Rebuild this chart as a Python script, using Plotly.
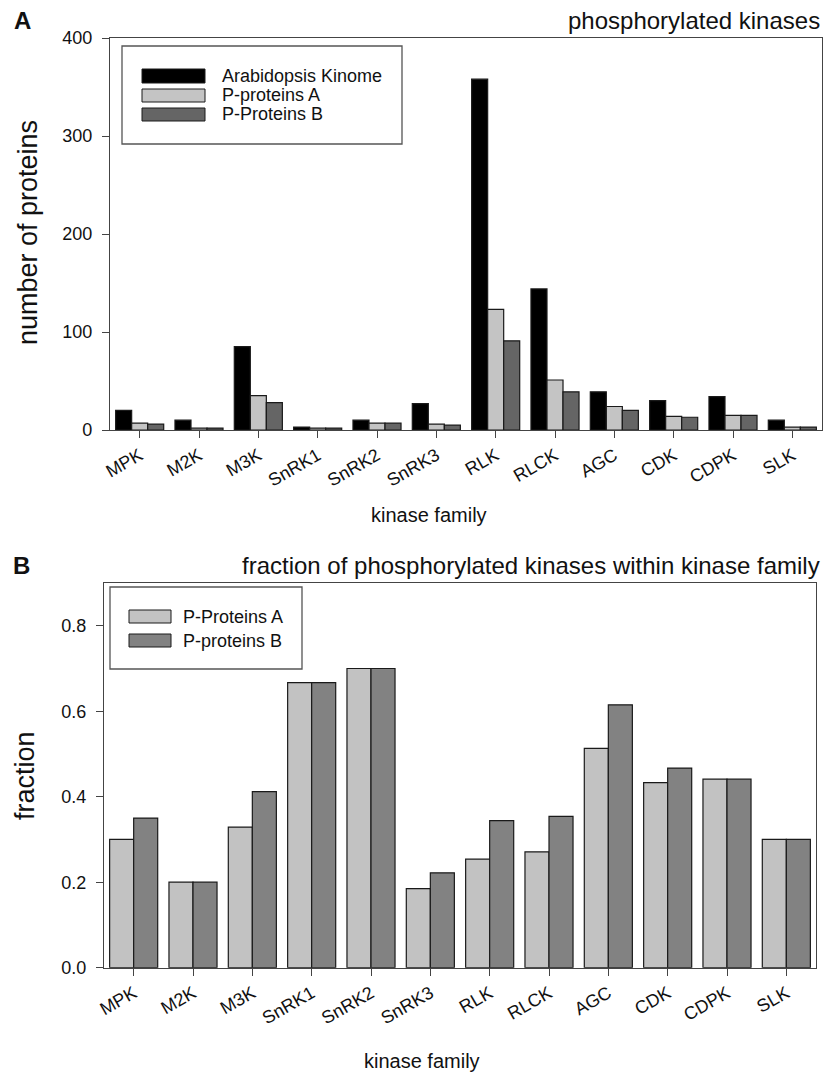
import plotly.graph_objects as go

W, H = 826, 1074

families = ["MPK", "M2K", "M3K", "SnRK1", "SnRK2", "SnRK3", "RLK", "RLCK", "AGC", "CDK", "CDPK", "SLK"]

# Panel A: counts
kinome = [20, 10, 85, 3, 10, 27, 358, 144, 39, 30, 34, 10]
pprot_a_counts = [7, 2, 35, 2, 7, 6, 123, 51, 24, 14, 15, 3]
pprot_b_counts = [6, 2, 28, 2, 7, 5, 91, 39, 20, 13, 15, 3]

# Panel B: fractions
frac_a = [0.300, 0.200, 0.329, 0.667, 0.700, 0.185, 0.254, 0.271, 0.513, 0.433, 0.441, 0.300]
frac_b = [0.350, 0.200, 0.412, 0.667, 0.700, 0.222, 0.344, 0.354, 0.615, 0.467, 0.441, 0.300]

legend_a_labels = ["Arabidopsis Kinome", "P-proteins A", "P-Proteins B"]
legend_b_labels = ["P-Proteins A", "P-proteins B"]

title_a = "phosphorylated kinases"
title_b = "fraction of phosphorylated kinases within kinase family"
ytitle_a = "number of proteins"
ytitle_b = "fraction"
xtitle = "kinase family"

col_black = "#000000"
col_light_a = "#c4c4c4"
col_dark_a = "#656565"
col_light_b = "#c2c2c2"
col_dark_b = "#828282"
edge = "#1a1a1a"

FONT = "Arial, Liberation Sans, Helvetica, sans-serif"


def px(x):
    return x / W


def py(y):
    return 1 - y / H


fig = go.Figure()

for vals, col, name in zip([kinome, pprot_a_counts, pprot_b_counts],
                           [col_black, col_light_a, col_dark_a], legend_a_labels):
    fig.add_trace(go.Bar(x=families, y=vals, name=name, marker=dict(color=col, line=dict(color=edge, width=1.2)),
                         xaxis="x", yaxis="y", offsetgroup=name, showlegend=False))

for vals, col, name in zip([frac_a, frac_b], [col_light_b, col_dark_b], legend_b_labels):
    fig.add_trace(go.Bar(x=families, y=vals, name=name, marker=dict(color=col, line=dict(color=edge, width=1.2)),
                         xaxis="x2", yaxis="y2", offsetgroup=name + "b", showlegend=False))

axis_common = dict(showline=True, linecolor="#444", linewidth=1.3, mirror=True, ticks="outside",
                   ticklen=7, tickcolor="#444", tickwidth=1.3, showgrid=False, zeroline=False,
                   automargin=False,
                   tickfont=dict(family=FONT, size=18, color="#111"))

fig.update_layout(
    template="none",
    width=W, height=H, margin=dict(l=0, r=0, t=0, b=0, pad=0, autoexpand=False),
    paper_bgcolor="white", plot_bgcolor="white",
    barmode="group", bargap=0.19, bargroupgap=0,
    font=dict(family=FONT, color="#111"),
    showlegend=False,
    xaxis=dict(domain=[px(110), px(822)], anchor="y", range=[-0.5, 11.5], tickangle=-30,
               **axis_common),
    yaxis=dict(domain=[py(430), py(38)], anchor="x", range=[0, 400], dtick=100,
               ticklabelstandoff=6, **axis_common),
    xaxis2=dict(domain=[px(104), px(816)], anchor="y2", range=[-0.5, 11.5], tickangle=-30,
                **axis_common),
    yaxis2=dict(domain=[py(967.7), py(583)], anchor="x2", range=[0, 0.9], dtick=0.2, tickformat=".1f",
                ticklabelstandoff=6, **axis_common),
)

ann = []
# panel letters
ann.append(dict(text="<b>A</b>", x=px(22), y=py(21), xref="paper", yref="paper", showarrow=False,
                font=dict(size=24, family=FONT, color="#111"), xanchor="center", yanchor="middle"))
ann.append(dict(text="<b>B</b>", x=px(21), y=py(565), xref="paper", yref="paper", showarrow=False,
                font=dict(size=24, family=FONT, color="#111"), xanchor="center", yanchor="middle"))
# titles
ann.append(dict(text=title_a, x=px(822), y=py(21), xref="paper", yref="paper", showarrow=False,
                font=dict(size=24, family=FONT, color="#111"), xanchor="right", yanchor="middle"))
ann.append(dict(text=title_b, x=px(822), y=py(565), xref="paper", yref="paper", showarrow=False,
                font=dict(size=24, family=FONT, color="#111"), xanchor="right", yanchor="middle"))
# y titles
ann.append(dict(text=ytitle_a, x=px(28), y=py(233), xref="paper", yref="paper", showarrow=False,
                textangle=-90, font=dict(size=27, family=FONT, color="#111"), xanchor="center", yanchor="middle"))
ann.append(dict(text=ytitle_b, x=px(25), y=py(776), xref="paper", yref="paper", showarrow=False,
                textangle=-90, font=dict(size=27, family=FONT, color="#111"), xanchor="center", yanchor="middle"))
# x titles
ann.append(dict(text=xtitle, x=px(429), y=py(515), xref="paper", yref="paper", showarrow=False,
                font=dict(size=20, family=FONT, color="#111"), xanchor="center", yanchor="middle"))
ann.append(dict(text=xtitle, x=px(422), y=py(1061), xref="paper", yref="paper", showarrow=False,
                font=dict(size=20, family=FONT, color="#111"), xanchor="center", yanchor="middle"))

shapes = []
# Legend A
shapes.append(dict(type="rect", xref="paper", yref="paper", x0=px(122), x1=px(402), y0=py(144), y1=py(46),
                   line=dict(color="#555", width=1.3), fillcolor="white"))
rows_a = [(69, 83), (89, 102), (108, 121)]
for (t, b), col, lab in zip(rows_a, [col_black, col_light_a, col_dark_a], legend_a_labels):
    shapes.append(dict(type="rect", xref="paper", yref="paper", x0=px(142), x1=px(205), y0=py(b), y1=py(t),
                       line=dict(color=edge, width=1), fillcolor=col))
    ann.append(dict(text=lab, x=px(220), y=py((t + b) / 2), xref="paper", yref="paper", showarrow=False,
                    font=dict(size=18, family=FONT, color="#111"), xanchor="left", yanchor="middle"))
# Legend B
shapes.append(dict(type="rect", xref="paper", yref="paper", x0=px(110), x1=px(302), y0=py(669), y1=py(587),
                   line=dict(color="#555", width=1.3), fillcolor="white"))
rows_b = [(610, 623), (634, 647)]
for (t, b), col, lab in zip(rows_b, [col_light_b, col_dark_b], legend_b_labels):
    shapes.append(dict(type="rect", xref="paper", yref="paper", x0=px(129), x1=px(171), y0=py(b), y1=py(t),
                       line=dict(color=edge, width=1), fillcolor=col))
    ann.append(dict(text=lab, x=px(181), y=py((t + b) / 2), xref="paper", yref="paper", showarrow=False,
                    font=dict(size=18, family=FONT, color="#111"), xanchor="left", yanchor="middle"))

fig.update_layout(annotations=ann, shapes=shapes)

fig.write_html("out.html",
               config={"displayModeBar": False},
               post_script="document.body.style.margin='0px';document.body.style.overflow='hidden';")
